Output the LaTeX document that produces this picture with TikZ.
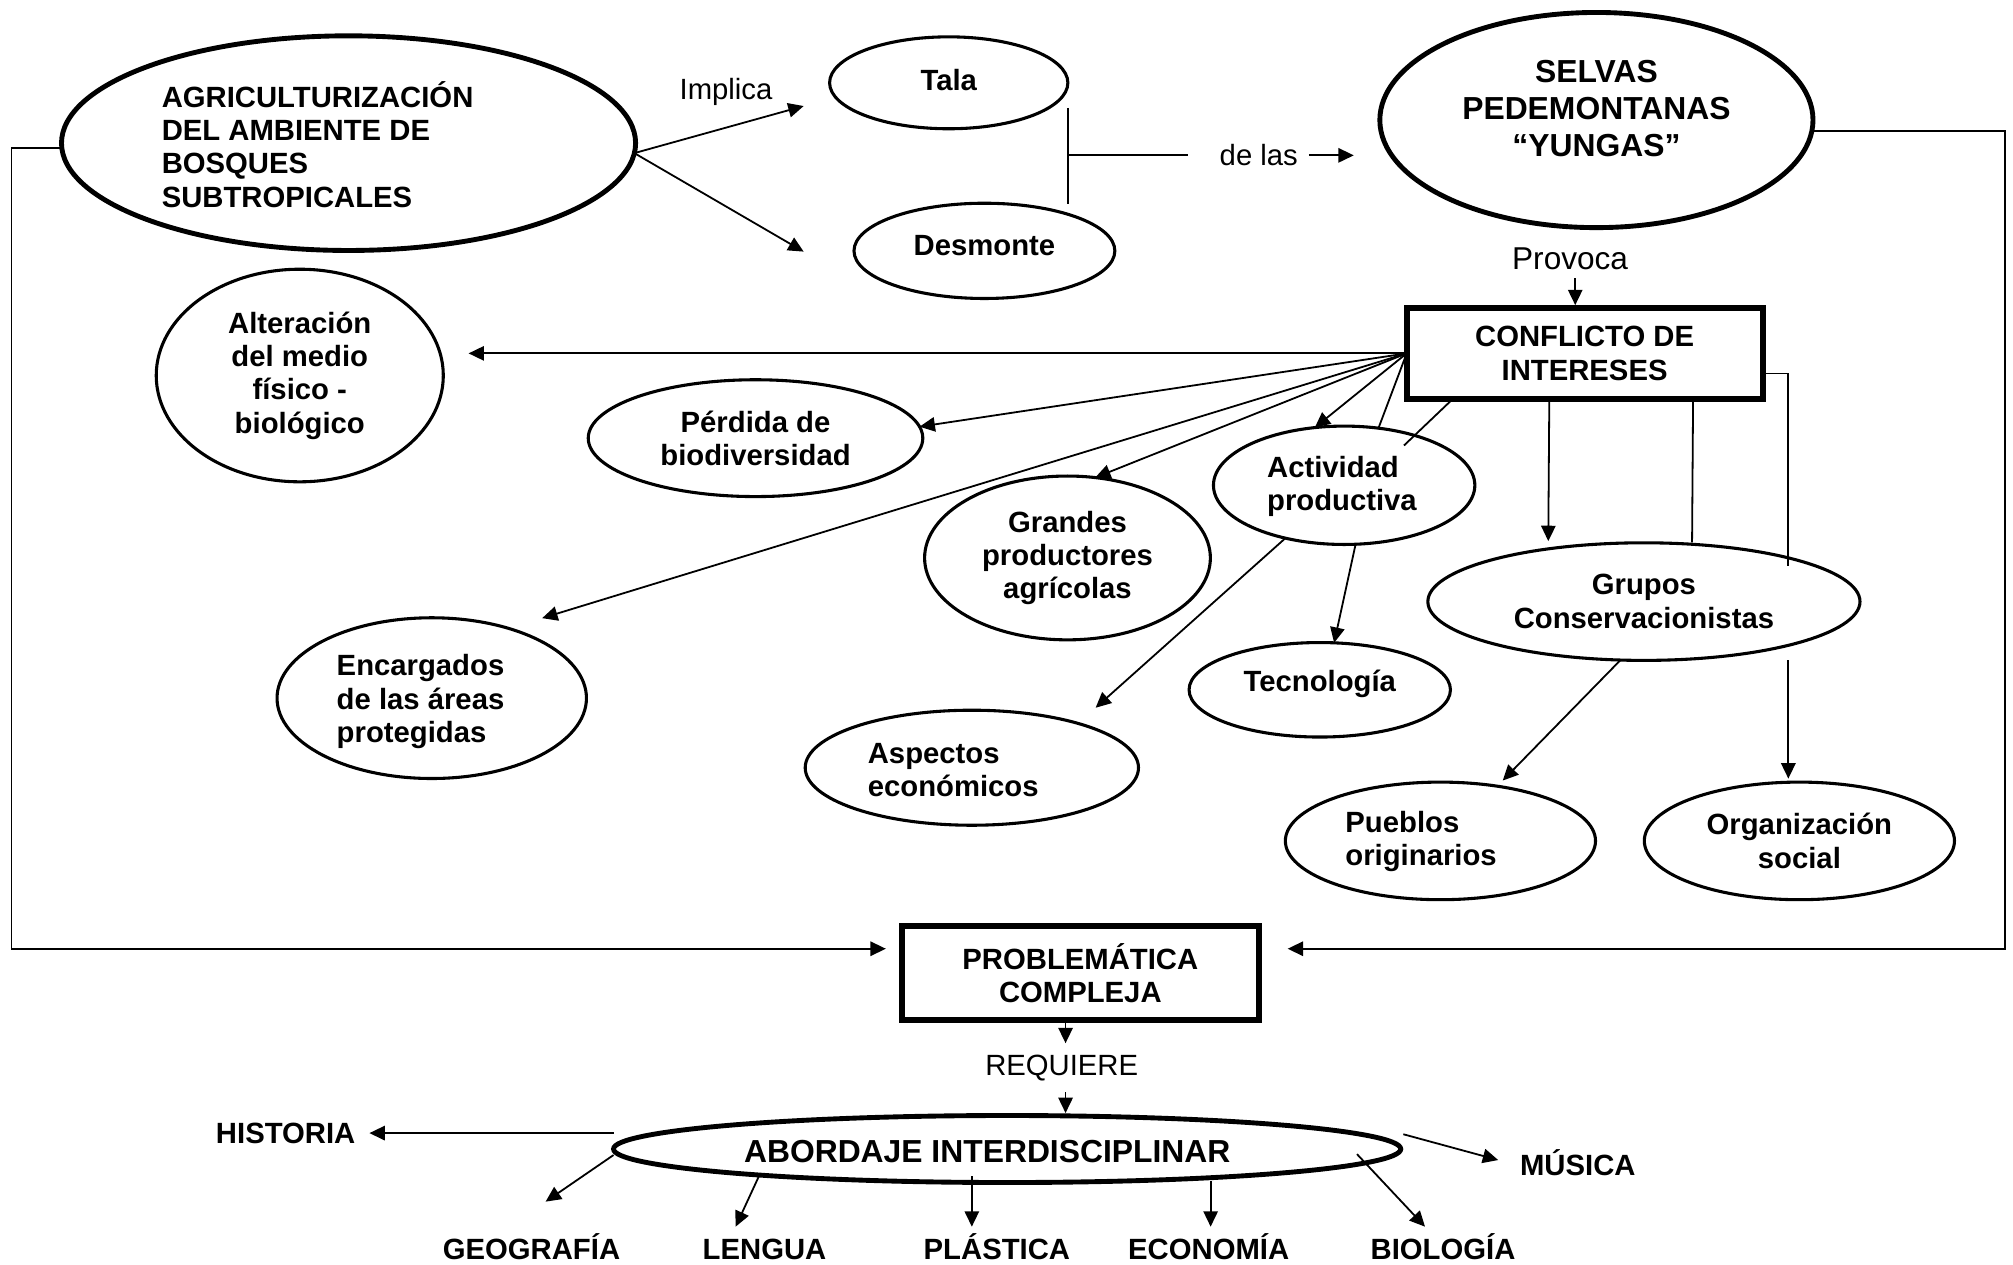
\documentclass[tikz,border=0pt]{standalone}
\usepackage{fontspec}
\setmainfont{Liberation Sans}
\usetikzlibrary{arrows.meta,shapes.geometric}
\begin{document}
\begin{tikzpicture}[x=0.5pt,y=-0.5pt,
  every node/.style={inner sep=0pt,outer sep=0pt},
  txt/.style={font=\fontsize{11.4}{13}\selectfont\bfseries,align=center},
  txtL/.style={font=\fontsize{11.4}{13}\selectfont\bfseries,align=left,anchor=west},
  big/.style={font=\fontsize{12.4}{14.3}\selectfont\bfseries,align=center},
  word/.style={font=\fontsize{11.4}{13}\selectfont,text height=8.2pt,text depth=0pt},
  subject/.style={font=\fontsize{11.4}{13}\selectfont\bfseries,text height=8.2pt,text depth=0pt},
  oval/.style={ellipse,draw,line width=1.2pt},
  bigoval/.style={ellipse,draw,line width=1.9pt},
  frame/.style={rectangle,draw,line width=2.3pt},
  conn/.style={line width=0.7pt},
  arr/.style={conn,-{Triangle[length=6pt,width=5.6pt]}},
]
\useasboundingbox (0,0) rectangle (1568,985);

% ---- main concepts -------------------------------------------------
\node[bigoval,minimum width=223.6pt,minimum height=83.6pt] (agri) at (271.5,111.5) {};
\node[txtL] (agriT) at (126,112.5) {AGRICULTURIZACIÓN\\DEL AMBIENTE DE\\BOSQUES\\SUBTROPICALES};

\node[oval,minimum width=92.8pt,minimum height=35.8pt] (tala) at (739,64.5) {};
\node[subject] (talaT) at (739,62) {Tala};
\node[oval,minimum width=101.6pt,minimum height=37.1pt] (desmonte) at (766.8,195.4) {};
\node[subject] (desmonteT) at (766.8,191) {Desmonte};

\node[bigoval,minimum width=168.7pt,minimum height=83.8pt] (selvas) at (1243.5,93.5) {};
\node[big] (selvasT) at (1243.5,84.4) {SELVAS\\PEDEMONTANAS\\“YUNGAS”};

\node[frame,txt,minimum width=138.6pt,minimum height=35.35pt] (conflict) at (1234.3,275.25) {CONFLICTO DE\\INTERESES};

\node[oval,txt,minimum width=111.8pt,minimum height=82.8pt] (alter) at (233.5,292.5) {Alteración\\del medio\\físico -\\biológico};
\node[oval,txt,minimum width=130.3pt,minimum height=45.5pt] (perdida) at (588.5,341.3) {Pérdida de\\biodiversidad};
\node[oval,txt,minimum width=111.3pt,minimum height=63.8pt] (grandes) at (831.5,434.6) {Grandes\\productores\\agrícolas};
\node[oval,minimum width=101.8pt,minimum height=46.1pt] (activ) at (1047,378) {};
\node[txtL] (activT) at (987,378.8) {Actividad\\productiva};
\node[oval,txt,minimum width=168.3pt,minimum height=45.8pt] (grupos) at (1280.5,468.6) {Grupos\\Conservacionistas};
\node[oval,minimum width=120.5pt,minimum height=62.6pt] (encarg) at (336.3,543.8) {};
\node[txtL] (encargT) at (262.3,546.5) {Encargados\\de las áreas\\protegidas};
\node[oval,minimum width=101.8pt,minimum height=36.8pt] (tecno) at (1028,537.3) {};
\node[txt] (tecnoT) at (1028,533) {Tecnología};
\node[oval,minimum width=129.8pt,minimum height=44.8pt] (aspect) at (757,598) {};
\node[txtL] (aspectT) at (676,599.8) {Aspectos\\económicos};
\node[oval,minimum width=120.8pt,minimum height=45.8pt] (pueblos) at (1122,655) {};
\node[txtL] (pueblosT) at (1048,655.7) {Pueblos\\originarios};
\node[oval,txt,minimum width=120.8pt,minimum height=45.8pt] (organ) at (1401.6,655) {Organización\\social};

\node[frame,txt,minimum width=139.2pt,minimum height=36.7pt] (prob) at (841.5,758) {PROBLEMÁTICA\\COMPLEJA};
\node[bigoval,minimum width=306.6pt,minimum height=26.1pt] (abord) at (784.5,895) {};
\node[big] (abordT) at (769,897) {ABORDAJE INTERDISCIPLINAR};

% ---- linking words -------------------------------------------------
\node[word] (implica) at (565.5,69) {Implica};
\node[word] (delas) at (980.5,121) {de las};
\node[font=\fontsize{12.3}{14}\selectfont,text height=8.8pt,text depth=0pt] (provoca) at (1223,201) {Provoca};
\node[word,text height=8.1pt] (requiere) at (827,829.6) {REQUIERE};

% ---- disciplines ---------------------------------------------------
\node[subject] (historia) at (222.5,882.6) {HISTORIA};
\node[subject] (musica) at (1229,907.5) {MÚSICA};
\node[subject] (geo) at (414,973) {GEOGRAFÍA};
\node[subject] (lengua) at (595.5,973) {LENGUA};
\node[subject] (plastica) at (776.5,973) {PLÁSTICA};
\node[subject] (economia) at (941.5,973) {ECONOMÍA};
\node[subject] (biologia) at (1124,973) {BIOLOGÍA};

% ---- free ends of connectors ---------------------------------------
\coordinate (tTala) at (626,82.6);
\coordinate (tDes) at (626,196);
\coordinate (brTop) at (832,84);
\coordinate (brBot) at (832,159);
\coordinate (brMid) at (832,121);
\coordinate (tSel) at (1054.5,121);
\coordinate (rCorner) at (1561.5,739);
\coordinate (rIn) at (1003,739);
\coordinate (lCorner) at (9,739);
\coordinate (lIn) at (690,739);
\coordinate (tAlt) at (365,275.25);
\coordinate (tEnc) at (422.3,481.5);
\coordinate (aIn) at (1093.6,347);
\coordinate (gIn) at (1393,441);
\coordinate (tGrp) at (1206,421.5);
\coordinate (eGrp) at (1318,422.5);
\coordinate (tAsp) at (853.4,551.3);
\coordinate (tPue) at (1170.5,608);
\coordinate (tOrg) at (1393,606.5);
\coordinate (tReq) at (830,812.6);
\coordinate (tAbd) at (830,867);
\coordinate (tMus) at (1167,903.6);
\coordinate (tGeo) at (425,936);
\coordinate (tLen) at (573,955.5);
\coordinate (tPla) at (757,955.5);
\coordinate (tEco) at (943,955.5);
\coordinate (tBio) at (1110,955.5);

% ---- connectors: top row -------------------------------------------
\draw[arr] (agri.-2.4) -- (tTala);
\draw[arr] (agri.-2.4) -- (tDes);
\draw[conn] (brTop) -- (brBot);
\draw[conn] (brMid) -- ([xshift=-12.5pt]delas.west);
\draw[arr] ([xshift=4.25pt]delas.east) -- (tSel);
\draw[arr] ([xshift=2pt,yshift=-3.5pt]provoca.south) -- ([xshift=-3.65pt,yshift=1.1pt]conflict.north);

% ---- outer loops into PROBLEMÁTICA COMPLEJA -----------------------
\draw[arr] (selvas.-3.3) -| (rCorner) -- (rIn);
\draw[arr] (agri.181.4) -| (lCorner) -- (lIn);

% ---- fan out of CONFLICTO DE INTERESES ------------------------------
\draw[arr] (conflict.west) -- (tAlt);
\draw[arr] (conflict.west) -- (perdida.4.2);
\draw[arr] (conflict.west) -- (grandes.71);
\draw[arr] (conflict.west) -- (tEnc);
\draw[arr] (conflict.west) -- (activ.117);
\draw[conn] (conflict.west) -- (activ.59);
\draw[conn] ([xshift=18.05pt]conflict.south west) -- (aIn);
\draw[arr] ([xshift=55.55pt]conflict.south west) -- (tGrp);
\draw[conn] ([xshift=111.55pt]conflict.south west) -- (eGrp);
\draw[conn] ([yshift=-7.8pt]conflict.east) -| (gIn);

% ---- second level --------------------------------------------------
\draw[arr] (activ.222.8) -- (tAsp);
\draw[arr] (activ.-79.8) -- (tecno.73);
\draw[arr] ([xshift=-9.25pt]grupos.south) -- (tPue);
\draw[arr] ([xshift=56.25pt]grupos.south) -- (tOrg);

% ---- bottom --------------------------------------------------------
\draw[arr] ([xshift=-5.75pt]prob.south) -- (tReq);
\draw[arr] ([xshift=1.5pt,yshift=-6.45pt]requiere.south) -- (tAbd);
\draw[arr] (abord.west |- historia.east) -- ([xshift=5.5pt]historia.east);
\draw[arr] ([xshift=1pt,yshift=5.75pt]abord.east) -- (tMus);
\draw[arr] ([yshift=-2.35pt]abord.west) -- (tGeo);
\draw[arr] (abord.186.8) -- (tLen);
\draw[arr] ([xshift=-13.75pt,yshift=2.5pt]abord.south) -- (tPla);
\draw[arr] ([xshift=79.25pt,yshift=0.5pt]abord.south) -- (tEco);
\draw[arr] ([xshift=136.25pt,yshift=-2pt]abord.center) -- (tBio);
\end{tikzpicture}
\end{document}
